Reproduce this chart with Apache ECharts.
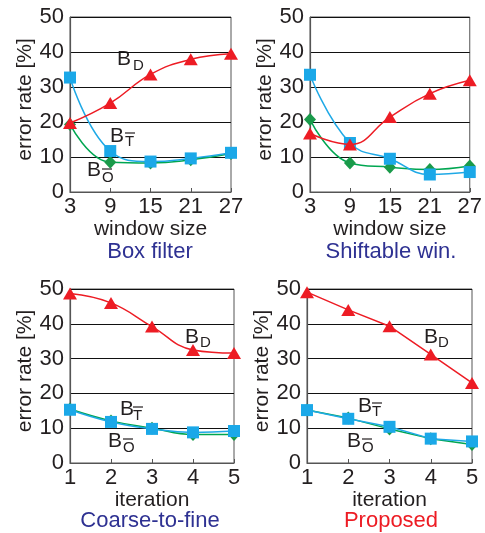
<!DOCTYPE html>
<html><head><meta charset="utf-8">
<script src="https://cdn.jsdelivr.net/npm/echarts@6/dist/echarts.min.js"></script>
<style>html,body{margin:0;padding:0;background:#fff}#c{width:485px;height:533px}</style>
</head><body><div id="c"></div>
<script>
const windowSizes = ['3','9','15','21','27'];
const iterations = ['1','2','3','4','5'];
const yTicks = [0,10,20,30,40,50];
const boxBD = [19.7, 25.4, 33.6, 37.9, 39.5];
const boxBT = [32.7, 11.7, 8.7, 9.6, 11.2];
const boxBO = [19.3, 8.5, 8.3, 9.2, 11.0];
const shiftBD = [16.7, 13.6, 21.4, 28.1, 31.9];
const shiftBT = [33.5, 14.0, 9.5, 5.0, 5.7];
const shiftBO = [20.7, 8.3, 7.1, 6.4, 7.4];
const c2fBD = [48.7, 46.0, 39.2, 32.5, 31.6];
const c2fBT = [15.3, 11.8, 9.8, 8.8, 9.2];
const c2fBO = [15.5, 12.1, 10.0, 8.2, 8.2];
const propBD = [49.1, 44.0, 39.3, 31.2, 23.0];
const propBT = [15.2, 12.7, 10.4, 7.0, 6.2];
const propBO = [15.2, 12.9, 9.8, 7.0, 5.3];
const panelTitles = ['Box filter','Shiftable win.','Coarse-to-fine','Proposed'];
const xNames = ['window size','window size','iteration','iteration'];

const FONT = "'Liberation Sans', Arial, sans-serif";
const RED = '#ed1c24', BLUE = '#1fa9e6', GREEN = '#00a651';
const grids = [
  {left:70, top:17, width:161, height:175},
  {left:310, top:17, width:161, height:175},
  {left:70, top:289, width:164, height:174},
  {left:307, top:289, width:165, height:174}
];
const cats = [windowSizes, windowSizes, iterations, iterations];
const data = [[boxBO, boxBT, boxBD],[shiftBO, shiftBT, shiftBD],[c2fBO, c2fBT, c2fBD],[propBO, propBT, propBD]];
const smooth = [0.45, 0.45, 0.45, false];

const xAxis = [], yAxis = [], series = [];
grids.forEach((g, i) => {
  g.show = true; g.borderColor = '#555'; g.borderWidth = 1;
  xAxis.push({
    type:'category', gridIndex:i, data:cats[i], boundaryGap:false,
    name:xNames[i], nameLocation:'middle', nameGap:21,
    nameTextStyle:{fontFamily:FONT, fontSize:21, color:'#231f20'},
    axisLine:{lineStyle:{color:'#555', width:1.2}},
    axisTick:{show:true, inside:true, length:4, lineStyle:{color:'#555'}},
    axisLabel:{fontFamily:FONT, fontSize:22, color:'#231f20', margin:4},
    splitLine:{show:false}
  });
  yAxis.push({
    type:'value', gridIndex:i, min:0, max:50, interval:10,
    name:'error rate [%]', nameLocation:'middle', nameGap:34,
    nameTextStyle:{fontFamily:FONT, fontSize:21, color:'#231f20', padding:[0,0,0,10]},
    axisLine:{show:true, lineStyle:{color:'#555', width:1.2}},
    axisTick:{show:false},
    axisLabel:{fontFamily:FONT, fontSize:22, color:'#231f20', margin:6},
    splitLine:{show:true, lineStyle:{color:'#111', width:1}}
  });
  const [bo, bt, bd] = data[i];
  series.push({type:'line', xAxisIndex:i, yAxisIndex:i, data:bo, smooth:smooth[i],
    symbol:'diamond', symbolSize:[12,13], itemStyle:{color:'#1a9a4a'},
    lineStyle:{color:GREEN, width:1.5}, z:2});
  series.push({type:'line', xAxisIndex:i, yAxisIndex:i, data:bt, smooth:smooth[i],
    symbol:'rect', symbolSize:12, itemStyle:{color:'#1ba8e8'},
    lineStyle:{color:BLUE, width:1.5}, z:3});
  series.push({type:'line', xAxisIndex:i, yAxisIndex:i, data:bd, smooth:smooth[i],
    symbol:'triangle', symbolSize:[14,12], itemStyle:{color:RED},
    lineStyle:{color:RED, width:1.5}, z:4});
});

const graphic = [];
const titlePos = [[150,252,'#2e3192'],[391,252,'#2e3192'],[150,521,'#2e3192'],[391,521,RED]];
panelTitles.forEach((t, i) => {
  graphic.push({type:'text', x:titlePos[i][0], y:titlePos[i][1],
    style:{text:t, fill:titlePos[i][2], font:'22px ' + FONT, textAlign:'center', textVerticalAlign:'middle'}});
});
// annotation labels: [Bx, By, subLetter, subX, subY, overbar]
const labels = [
  [117,59,'D',133,66,false],[110,136,'T',125,142,true],[87,170,'O',102,178,true],
  [185,337,'D',200,343,false],[120,409,'T',133,416,true],[108,441,'O',123,448,true],
  [424,337,'D',438,343,false],[358,406,'T',372,412,true],[347,441,'O',362,448,true]
];
labels.forEach(l => {
  graphic.push({type:'text', x:l[0], y:l[1],
    style:{text:'B', fill:'#231f20', font:'21px ' + FONT, textAlign:'left', textVerticalAlign:'middle'}});
  graphic.push({type:'text', x:l[3], y:l[4],
    style:{text:l[2], fill:'#231f20', font:'15px ' + FONT, textAlign:'left', textVerticalAlign:'middle'}});
  if (l[5]) {
    graphic.push({type:'line', shape:{x1:l[3], y1:l[4]-9, x2:l[3]+10, y2:l[4]-9},
      style:{stroke:'#231f20', lineWidth:1.2}});
  }
});

const chart = echarts.init(document.getElementById('c'), null, {renderer:'canvas'});
chart.setOption({
  animation:false, backgroundColor:'#fff',
  grid:grids, xAxis:xAxis, yAxis:yAxis, series:series, graphic:graphic
});
</script></body></html>
